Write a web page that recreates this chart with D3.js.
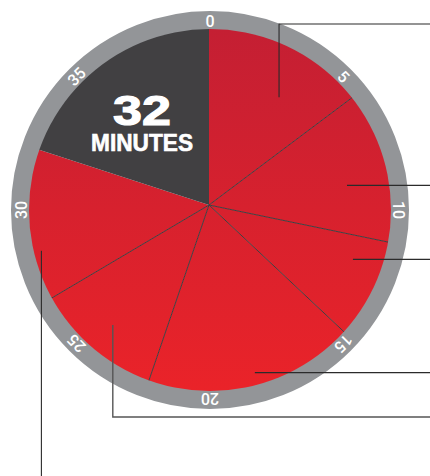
<!DOCTYPE html>
<html>
<head>
<meta charset="utf-8">
<script src="https://cdn.jsdelivr.net/npm/d3@7"></script>
<style>
  body { margin: 0; background: #fff; }
  svg { display: block; }
  .tick { font-family: Roboto, "Liberation Sans", Arial, sans-serif; font-weight: 500; font-size: 16px; fill: #fff; }
  .total { font-family: "Liberation Sans", Arial, sans-serif; font-weight: bold; fill: #fff; stroke: #fff; }
</style>
</head>
<body>
<div id="dial"></div>
<script>
// minutes spent on each step, in order round the dial
var stepMinutes = [5.9, 5.4, 3.5, 7.3, 4.5, 5.4];
var totalMinutes = 32;
var dialMinutes = 40;
var tickMinutes = [0, 5, 10, 15, 20, 25, 30, 35];
var totalLabel = ["32", "MINUTES"];

// callout anchors: minute on the dial and distance from the hub (0-1 of the disc radius)
var calloutMinute = [3.67, 9.1, 12.3, 18.3, 24.3, 28.3];
var calloutReach = [0.71, 0.77, 0.85, 0.96, 0.85, 0.96];

var svgWidth = 430;
var svgHeight = 476;

var cx = 210, cy = 210;       // disc / ring centre
var hx = 209, hy = 205;       // where the wedges meet
var discR = 181;
var ringR = 189.5, ringW = 19;

var svg = d3.select("#dial")
  .append("svg")
  .attr("width", svgWidth)
  .attr("height", svgHeight);

var defs = svg.append("defs");

// gradient lives in the wedge group's coordinates (origin at the hub)
var grad = defs.append("linearGradient")
  .attr("id", "redFade")
  .attr("gradientUnits", "userSpaceOnUse")
  .attr("x1", 0).attr("y1", cy - hy - discR)
  .attr("x2", 0).attr("y2", cy - hy + discR);
grad.append("stop").attr("offset", "0%").attr("stop-color", "#c41f33");
grad.append("stop").attr("offset", "100%").attr("stop-color", "#ea2329");

defs.append("clipPath").attr("id", "disc")
  .append("circle")
  .attr("cx", cx - hx).attr("cy", cy - hy).attr("r", discR);

var angle = d3.scaleLinear().domain([0, dialMinutes]).range([0, 2 * Math.PI]);

// gray ring
svg.append("circle")
  .attr("cx", cx).attr("cy", cy).attr("r", ringR)
  .attr("fill", "none")
  .attr("stroke", "#939598")
  .attr("stroke-width", ringW);

// wedges
var pieData = stepMinutes.concat([dialMinutes - totalMinutes]);
var pie = d3.pie().sort(null).value(d => d)
  .startAngle(0).endAngle(angle(dialMinutes));
var arcs = pie(pieData);

var arc = d3.arc().innerRadius(0).outerRadius(discR + 20);

var wedges = svg.append("g")
  .attr("transform", `translate(${hx}, ${hy})`)
  .attr("clip-path", "url(#disc)");

wedges.selectAll("path")
  .data(arcs)
  .enter().append("path")
  .attr("d", arc)
  .attr("fill", (d, i) => i == stepMinutes.length ? "#414042" : "url(#redFade)");

// separators between the red steps
var bounds = d3.cumsum(stepMinutes).slice(0, stepMinutes.length - 1);
wedges.selectAll("line")
  .data(bounds)
  .enter().append("line")
  .attr("x1", 0).attr("y1", 0)
  .attr("x2", d => (discR + 20) * Math.sin(angle(d)))
  .attr("y2", d => -(discR + 20) * Math.cos(angle(d)))
  .attr("stroke", "#3f3f41")
  .attr("stroke-width", 1);

// minute labels in the ring
svg.append("g").selectAll("text")
  .data(tickMinutes)
  .enter().append("text")
  .attr("class", "tick")
  .attr("text-anchor", "middle")
  .attr("dominant-baseline", "central")
  .attr("transform", d => `translate(${cx}, ${cy}) rotate(${angle(d) * 180 / Math.PI}) translate(0, ${-ringR + 1})`)
  .text(d => d);

// total in the dark wedge
svg.append("text")
  .attr("class", "total")
  .attr("x", 142).attr("y", 125)
  .attr("text-anchor", "middle")
  .attr("font-size", "43px")
  .attr("stroke-width", 1.2)
  .attr("textLength", 58)
  .attr("lengthAdjust", "spacingAndGlyphs")
  .text(totalLabel[0]);

svg.append("text")
  .attr("class", "total")
  .attr("x", 142).attr("y", 151)
  .attr("text-anchor", "middle")
  .attr("font-size", "23px")
  .attr("stroke-width", 0.6)
  .attr("textLength", 102)
  .attr("lengthAdjust", "spacingAndGlyphs")
  .text(totalLabel[1]);

// callout leaders out to the right edge
function anchor(i) {
  var a = angle(calloutMinute[i]);
  var r = discR * calloutReach[i];
  return [hx + r * Math.sin(a), hy - r * Math.cos(a)];
}

var leaders = [];
leaders.push([anchor(0), [anchor(0)[0], 24], [svgWidth, 24]]);
leaders.push([anchor(1), [svgWidth, anchor(1)[1]]]);
leaders.push([anchor(2), [svgWidth, anchor(2)[1]]]);
leaders.push([anchor(3), [svgWidth, anchor(3)[1]]]);
leaders.push([anchor(4), [anchor(4)[0], 417], [svgWidth, 417]]);
leaders.push([anchor(5), [anchor(5)[0], svgHeight]]);

svg.append("g").selectAll("path")
  .data(leaders)
  .enter().append("path")
  .attr("d", d3.line())
  .attr("fill", "none")
  .attr("stroke", (d, i) => i == 4 ? "#555" : "#2b2b2b")
  .attr("stroke-width", (d, i) => i == 4 ? 1.4 : 1.1);
</script>
</body>
</html>
